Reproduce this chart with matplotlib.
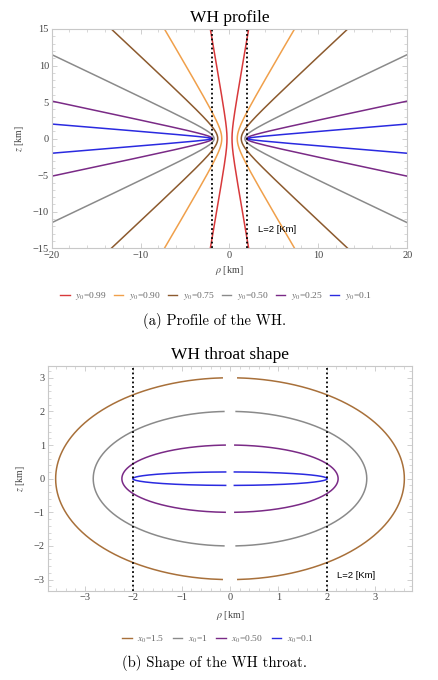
import numpy as np
import matplotlib
matplotlib.use('Agg')
import matplotlib.pyplot as plt
from matplotlib.ticker import MultipleLocator
from matplotlib.lines import Line2D

plt.rcParams['font.family'] = ['Liberation Serif', 'DejaVu Serif']
plt.rcParams['mathtext.fontset'] = 'stix'

# oblate spheroidal half-length
L = 2.0

# WH profile: constant-y surfaces
y0_values = [0.99, 0.90, 0.75, 0.50, 0.25, 0.1]
y0_labels = ['0.99', '0.90', '0.75', '0.50', '0.25', '0.1']
y0_colors = ['#d8393b', '#f0a04b', '#8c5a2e', '#8a8a8a', '#7a2a86', '#2a2ae0']

# WH throat: constant-x surfaces
x0_values = [1.5, 1, 0.50, 0.1]
x0_labels = ['1.5', '1', '0.50', '0.1']
x0_colors = ['#a8703a', '#8a8a8a', '#7a2a86', '#2a2ae0']

line_color = '#c8c8c8'
tick_color = '#444444'


def style_axes(ax):
    for s in ax.spines.values():
        s.set_color(line_color)
        s.set_linewidth(0.8)
    ax.tick_params(which='both', direction='in', color=line_color,
                   top=True, right=True, labeltop=False, labelright=False,
                   labelsize=7.5, labelcolor=tick_color, pad=2)
    ax.tick_params(which='major', length=3.5, width=0.6)
    ax.tick_params(which='minor', length=2, width=0.5)


def make_legend(labels, colors, center, spacing):
    proxies = [Line2D([], [], color=c, lw=1.0) for c in colors]
    fig.legend(proxies, labels, loc='center', bbox_to_anchor=center,
               ncol=len(labels), frameon=False, fontsize=6.8, handlelength=1.0,
               handletextpad=0.6, columnspacing=spacing, labelcolor='#666666')


fig = plt.figure(figsize=(4.39, 6.8), dpi=100)
W, H = 439.0, 680.0

# ---- (a) profile ----
ax1 = fig.add_axes([51.7 / W, 1 - 248.3 / H, (407.3 - 51.7) / W, (248.3 - 29) / H])
xx = np.linspace(-90, 90, 4001)
for y0, c in zip(y0_values, y0_colors):
    rho = L * np.sqrt(1 + xx ** 2) * np.sqrt(1 - y0 ** 2)
    z = L * xx * y0
    ax1.plot(rho, z, color=c, lw=1.1)
    ax1.plot(-rho, z, color=c, lw=1.1)
ax1.axvline(-L, color='black', ls=(0, (1, 1.5)), lw=1.3)
ax1.axvline(L, color='black', ls=(0, (1, 1.5)), lw=1.3)
ax1.text(3.2, -12.4, 'L=2 [Km]', family='Liberation Sans', fontsize=6.8, va='center')
ax1.set_xlim(-20, 20)
ax1.set_ylim(-15, 15)
ax1.xaxis.set_major_locator(MultipleLocator(10))
ax1.xaxis.set_minor_locator(MultipleLocator(2))
ax1.yaxis.set_major_locator(MultipleLocator(5))
ax1.yaxis.set_minor_locator(MultipleLocator(1))
style_axes(ax1)
ax1.set_xlabel(r'$\rho$ [km]', fontsize=7.2, color=tick_color, labelpad=3)
ax1.set_ylabel(r'$z$ [km]', fontsize=7.2, color=tick_color, labelpad=5)
ax1.set_title('WH profile', fontsize=12.5, pad=5)
make_legend([r'$y_0$=' + s for s in y0_labels], y0_colors, (216 / W, 1 - 296.5 / H), 0.75)
fig.text(215 / W, 1 - 321 / H, '(a) Profile of the WH.', family='cmr10',
         fontsize=10.6, ha='center', va='center')

# ---- (b) throat ----
ax2 = fig.add_axes([47.7 / W, 1 - 590.7 / H, (412.3 - 47.7) / W, (590.7 - 366) / H])
yy = np.linspace(-0.999, 0.999, 800)
for x0, c in zip(x0_values, x0_colors):
    rho = L * np.sqrt(1 + x0 ** 2) * np.sqrt(1 - yy ** 2)
    z = L * x0 * yy
    ax2.plot(rho, z, color=c, lw=1.1)
    ax2.plot(-rho, z, color=c, lw=1.1)
ax2.axvline(-L, color='black', ls=(0, (1, 1.5)), lw=1.3)
ax2.axvline(L, color='black', ls=(0, (1, 1.5)), lw=1.3)
ax2.text(2.21, -2.88, 'L=2 [Km]', family='Liberation Sans', fontsize=6.8, va='center')
ax2.set_xlim(-3.77, 3.77)
ax2.set_ylim(-3.33, 3.35)
ax2.xaxis.set_major_locator(MultipleLocator(1))
ax2.xaxis.set_minor_locator(MultipleLocator(0.2))
ax2.yaxis.set_major_locator(MultipleLocator(1))
ax2.yaxis.set_minor_locator(MultipleLocator(0.2))
style_axes(ax2)
ax2.set_xlabel(r'$\rho$ [km]', fontsize=7.2, color=tick_color, labelpad=5)
ax2.set_ylabel(r'$z$ [km]', fontsize=7.2, color=tick_color, labelpad=5)
ax2.set_title('WH throat shape', fontsize=12.5, pad=5)
make_legend([r'$x_0$=' + s for s in x0_labels], x0_colors, (218 / W, 1 - 639 / H), 0.9)
fig.text(215 / W, 1 - 663 / H, '(b) Shape of the WH throat.', family='cmr10',
         fontsize=10.6, ha='center', va='center')

fig.savefig('out.png', dpi=100)
